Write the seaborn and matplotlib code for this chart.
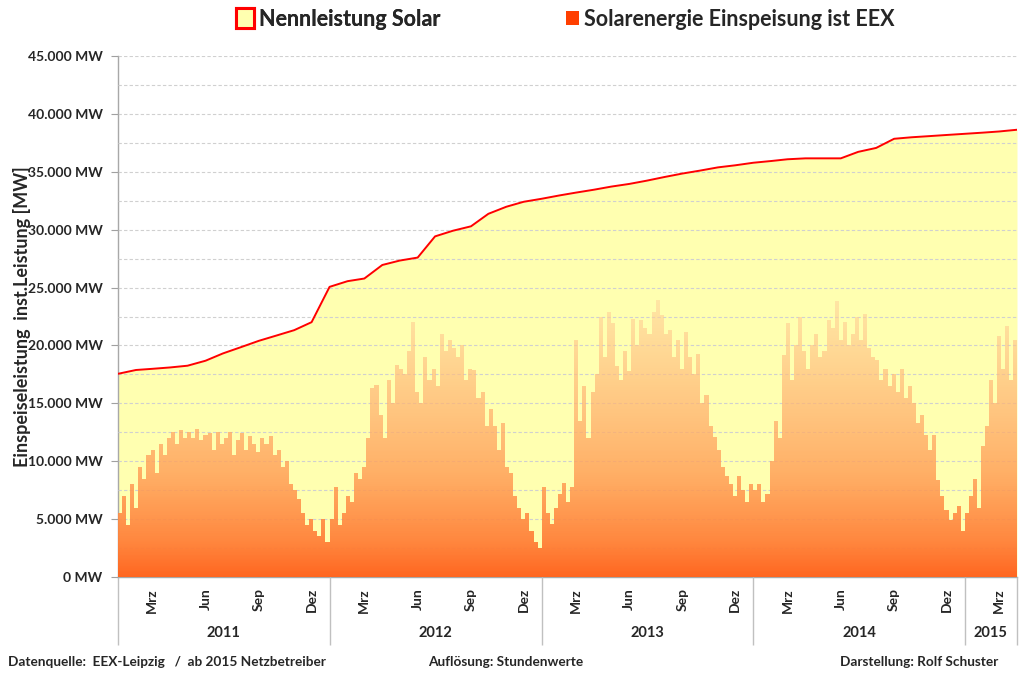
import numpy as np
import pandas as pd
import matplotlib
matplotlib.use("Agg")
import matplotlib.pyplot as plt
import matplotlib.dates as mdates
from matplotlib.patches import Patch
from matplotlib.colors import LinearSegmentedColormap, to_rgb
from matplotlib.ticker import FixedLocator, FuncFormatter
import seaborn as sns

# ---------------- data ----------------
# installed solar capacity (MW), first day of each month, Jan 2011 .. Apr 2015
cap_2011 = [17550, 17880, 17980, 18100, 18250, 18680, 19310, 19850, 20400, 20850, 21320, 22010]
cap_2012 = [25060, 25550, 25780, 26950, 27330, 27590, 29420, 29910, 30290, 31370, 31980, 32410]
cap_2013 = [32670, 32960, 33200, 33450, 33720, 33950, 34230, 34550, 34850, 35100, 35380, 35560]
cap_2014 = [35780, 35930, 36080, 36160, 36160, 36160, 36720, 37060, 37850, 37980, 38080, 38180]
cap_2015 = [38280, 38380, 38480, 38630]

# solar feed-in, weekly peak of the hourly values (MW)
feed_2011 = [5500, 7000, 4500, 8000, 6000, 9500, 8500, 10500,
             11000, 9000, 11500, 10500, 12000, 12500, 11500, 12700, 12000,
             12500, 12000, 12800, 11800, 12300, 12400, 11000, 12500, 11500,
             12000, 12500, 10500, 11800, 12400, 11000, 12200, 11500, 10800,
             12000, 11500, 12200, 10500, 11000, 9500, 10000, 8000, 7500,
             6700, 5500, 4500, 5000, 4000, 3500, 5000, 3000]
feed_2012 = [5000, 7800, 4500, 5500, 7000, 6500, 9000, 8500,
             9500, 12000, 16300, 16600, 14000, 12000, 17000, 15000, 18300,
             18000, 17500, 19500, 22000, 16000, 15000, 19000, 17000, 18000,
             16500, 21000, 19500, 20500, 19800, 19000, 20000, 17000, 18000,
             17900, 15500, 16000, 13000, 14500, 13000, 11000, 13300, 9500,
             9000, 7000, 6000, 5000, 5500, 4000, 3000, 2500]
feed_2013 = [7800, 5500, 4600, 6000, 7200, 8100, 6500, 7800,
             20500, 13500, 16500, 12000, 16000, 17500, 22500, 19000, 22900,
             21900, 18200, 17000, 19500, 17800, 22300, 20000, 22200, 21500,
             21000, 22900, 23900, 22600, 21000, 21300, 19000, 20500, 18000,
             21200, 19000, 17500, 19300, 15000, 15700, 13000, 12100, 11000,
             9500, 8700, 8000, 7000, 8700, 7500, 6500, 8000]
feed_2014 = [7500, 8000, 6500, 7200, 10000, 13500, 12000, 19200,
             21900, 17000, 20000, 22500, 19500, 18000, 20000, 21000, 19000,
             19500, 22200, 21500, 23800, 20500, 22000, 20000, 21000, 22500,
             20500, 22700, 19800, 19000, 18700, 17000, 18000, 16500, 17500,
             16000, 18000, 15500, 16500, 15000, 13300, 14000, 12300, 11000,
             12300, 8400, 7000, 5800, 4900, 5500, 6100, 4000]
feed_2015 = [5500, 7000, 8500, 6000, 11300, 13000, 17000, 15000,
             20800, 18000, 21700, 17000, 20500]

years = ["2011", "2012", "2013", "2014", "2015"]
month_labels = ["Mrz", "Jun", "Sep", "Dez"]
y_tick_values = list(range(0, 45001, 5000))

# ---------------- style ----------------
sns.set_theme(style="white")
plt.rcParams["font.family"] = ["Lato", "DejaVu Sans"]
plt.rcParams["font.weight"] = "bold"

fig = plt.figure(figsize=(10.24, 6.74), dpi=100)
ax = fig.add_axes([118 / 1024, 1 - 577 / 674, (1017 - 118) / 1024, (577 - 56) / 674])

d = mdates.date2num
start = pd.Timestamp("2011-01-01")
end = pd.Timestamp("2015-04-01")
year_bounds = [pd.Timestamp("2011-01-01"), pd.Timestamp("2012-01-01"), pd.Timestamp("2013-01-01"),
               pd.Timestamp("2014-01-01"), pd.Timestamp("2015-01-01"), end]

# capacity
cap_vals = np.array(cap_2011 + cap_2012 + cap_2013 + cap_2014 + cap_2015, dtype=float)
cap_dates = pd.date_range("2011-01-01", "2015-04-01", freq="MS")
cap_x = d(cap_dates.to_pydatetime())
ax.fill_between(cap_x, cap_vals, 0, color="#FFFFB0", lw=0, zorder=1)
sns.lineplot(x=cap_x, y=cap_vals, ax=ax, color="#FF0000", lw=1.4, zorder=5)

# feed-in: weekly peaks as a step area, filled with a vertical gradient
feeds = [feed_2011, feed_2012, feed_2013, feed_2014, feed_2015]
edges_all, vals_all = [], []
for i, f in enumerate(feeds):
    e = np.linspace(d(year_bounds[i].to_pydatetime()), d(year_bounds[i + 1].to_pydatetime()), len(f) + 1)
    edges_all.append(e[:-1])
    vals_all.extend(f)
edges = np.concatenate(edges_all + [[d(end.to_pydatetime())]])
vals = np.array(vals_all, dtype=float)
step_y = np.append(vals, vals[-1])
poly = ax.fill_between(edges, step_y, 0, step="post", color="none", lw=0, zorder=3)

stops = [(0.0, "#FF6620", 1.0), (0.12, "#FF8038", 0.95), (0.35, "#FFA058", 0.85),
         (0.65, "#FFB978", 0.72), (1.0, "#FFD7A0", 0.55)]
cmap = LinearSegmentedColormap.from_list("solar", [(p, (*to_rgb(c), a)) for p, c, a in stops])
grad = np.linspace(0, 1, 256).reshape(-1, 1)
x0, x1 = d(start.to_pydatetime()), d(end.to_pydatetime())
im = ax.imshow(grad, extent=[x0, x1, 0, 25000], origin="lower", aspect="auto",
               cmap=cmap, zorder=3, interpolation="bilinear")
im.set_clip_path(poly.get_paths()[0], transform=ax.transData)

# ---------------- axes ----------------
ax.set_xlim(x0, x1)
ax.set_ylim(0, 45000)
ax.set_axisbelow(False)

ax.yaxis.set_major_locator(FixedLocator(y_tick_values))
ax.yaxis.set_minor_locator(FixedLocator(list(range(2500, 45000, 5000))))
ax.yaxis.set_major_formatter(FuncFormatter(lambda v, p: f"{int(v):,} MW".replace(",", ".")))
ax.grid(True, axis="y", which="both", linestyle=(0, (3, 2)), color="#D0D0D0", lw=0.8)
ax.grid(False, axis="x")
ax.tick_params(axis="y", which="major", direction="out", length=5, width=0.8,
               color="#A0A0A0", labelsize=10, pad=6, left=True)
ax.tick_params(axis="y", which="minor", length=0)

# x: year separators as long major ticks, months as minor tick labels
ax.xaxis.set_major_locator(FixedLocator([d(b.to_pydatetime()) for b in year_bounds]))
ax.xaxis.set_major_formatter(FuncFormatter(lambda v, p: ""))
month_pos, month_txt = [], []
for yi, y in enumerate(years):
    for mi, m in enumerate([3, 6, 9, 12]):
        t = pd.Timestamp(int(y), m, 1)
        if t < end:
            month_pos.append(d(t.to_pydatetime()))
            month_txt.append(month_labels[mi])
ax.xaxis.set_minor_locator(FixedLocator(month_pos))
ax.xaxis.set_minor_formatter(FuncFormatter(lambda v, p: month_txt[p] if p is not None and p < len(month_txt) else ""))
ax.tick_params(axis="x", which="major", direction="out", length=49, width=1.0,
               color="#C0C0C0", bottom=True)
ax.tick_params(axis="x", which="minor", length=0, labelsize=10, pad=8,
               labelrotation=90, bottom=True)

for s in ["top", "right"]:
    ax.spines[s].set_visible(False)
ax.spines["left"].set_color("#A8A8A8")
ax.spines["bottom"].set_color("#A8A8A8")
ax.spines["left"].set_linewidth(1.0)
ax.spines["bottom"].set_linewidth(1.0)

for i, y in enumerate(years):
    xm = (d(year_bounds[i].to_pydatetime()) + d(year_bounds[i + 1].to_pydatetime())) / 2
    ax.text(xm, (577 - 633) / 521, y, transform=ax.get_xaxis_transform(),
            ha="center", va="center", fontsize=10.5, fontweight="bold")

ax.set_ylabel("Einspeiseleistung  inst.Leistung [MW]", fontsize=13, fontweight="bold")
ax.yaxis.set_label_coords(-87 / 899, 0.5)
ax.set_xlabel("")

# legend (two single-entry legends, placed like the original)
fs = 15.5
leg1 = fig.legend([Patch(facecolor="#FFFFB0", edgecolor="#FF0000", linewidth=2.2)],
                  ["Nennleistung Solar"], loc="center left",
                  bbox_to_anchor=(236 / 1024, 1 - 19 / 674), frameon=False,
                  prop={"size": fs, "weight": "bold"}, handlelength=0.85, handleheight=1.05,
                  handletextpad=0.2, borderpad=0, borderaxespad=0)
leg2 = fig.legend([Patch(facecolor="#FF3F00", edgecolor="none")],
                  ["Solarenergie Einspeisung ist EEX"], loc="center left",
                  bbox_to_anchor=(566 / 1024, 1 - 19 / 674), frameon=False,
                  prop={"size": fs, "weight": "bold"}, handlelength=0.6, handleheight=0.65,
                  handletextpad=0.25, borderpad=0, borderaxespad=0)
fig.add_artist(leg1)

# footer
fig.text(8 / 1024, 1 - 662 / 674, "Datenquelle:  EEX-Leipzig   /  ab 2015 Netzbetreiber",
         fontsize=9.8, fontweight="bold", va="center", ha="left")
fig.text(428 / 1024, 1 - 662 / 674, "Auflösung: Stundenwerte",
         fontsize=9.8, fontweight="bold", va="center", ha="left")
fig.text(840 / 1024, 1 - 662 / 674, "Darstellung: Rolf Schuster",
         fontsize=9.8, fontweight="bold", va="center", ha="left")

fig.savefig("out.png", dpi=100)
